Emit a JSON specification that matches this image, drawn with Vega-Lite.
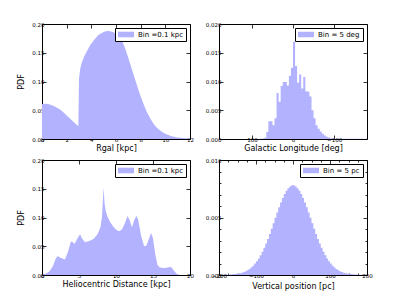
{
  "$schema": "https://vega.github.io/schema/vega-lite/v6.json",
  "padding": {"left": 17, "top": 21, "right": 5, "bottom": 5},
  "config": {
    "view": {"stroke": "black", "strokeWidth": 1},
    "axis": {"domain": false, "grid": false, "tickColor": "black", "tickSize": -4, "tickWidth": 0.8,
      "labelFont": "DejaVu Sans", "labelFontSize": 5.5, "labelColor": "black", "labelPadding": 2,
      "labelFlush": false, "labelOverlap": false,
      "titleFont": "DejaVu Sans", "titleFontSize": 8, "titleFontWeight": "normal", "titleColor": "black", "titlePadding": 2},
    "legend": {"orient": "top-right", "offset": 4, "padding": 3, "strokeColor": "black", "fillColor": "white",
      "cornerRadius": 0, "symbolType": "M-1,-0.35H1V0.35H-1Z", "symbolSize": 256, "symbolStrokeWidth": 0,
      "symbolOpacity": 1, "labelFont": "DejaVu Sans", "labelFontSize": 7, "labelColor": "black",
      "labelOffset": 4, "clipHeight": 7}
  },
  "datasets": {
    "rgal": [
      {"r": 0, "pdf": 0.061}, {"r": 0.25, "pdf": 0.0615}, {"r": 0.5, "pdf": 0.061}, {"r": 0.75, "pdf": 0.059},
      {"r": 1.0, "pdf": 0.057}, {"r": 1.25, "pdf": 0.054}, {"r": 1.5, "pdf": 0.051}, {"r": 1.75, "pdf": 0.046},
      {"r": 2.0, "pdf": 0.041}, {"r": 2.25, "pdf": 0.036}, {"r": 2.5, "pdf": 0.031}, {"r": 2.75, "pdf": 0.026},
      {"r": 2.95, "pdf": 0.022}, {"r": 3.0, "pdf": 0.105}, {"r": 3.1, "pdf": 0.122}, {"r": 3.2, "pdf": 0.131},
      {"r": 3.35, "pdf": 0.140}, {"r": 3.5, "pdf": 0.147}, {"r": 3.75, "pdf": 0.157}, {"r": 3.9, "pdf": 0.163},
      {"r": 4.25, "pdf": 0.173}, {"r": 4.57, "pdf": 0.181}, {"r": 5.0, "pdf": 0.186}, {"r": 5.25, "pdf": 0.188},
      {"r": 5.5, "pdf": 0.1875}, {"r": 5.75, "pdf": 0.186}, {"r": 6.0, "pdf": 0.183}, {"r": 6.25, "pdf": 0.178},
      {"r": 6.5, "pdf": 0.171}, {"r": 6.75, "pdf": 0.157}, {"r": 7.0, "pdf": 0.141}, {"r": 7.25, "pdf": 0.124},
      {"r": 7.5, "pdf": 0.107}, {"r": 7.75, "pdf": 0.090}, {"r": 8.0, "pdf": 0.074}, {"r": 8.25, "pdf": 0.060},
      {"r": 8.5, "pdf": 0.047}, {"r": 8.75, "pdf": 0.037}, {"r": 9.0, "pdf": 0.028}, {"r": 9.25, "pdf": 0.021},
      {"r": 9.5, "pdf": 0.016}, {"r": 9.75, "pdf": 0.012}, {"r": 10.0, "pdf": 0.009}, {"r": 10.5, "pdf": 0.005},
      {"r": 11.0, "pdf": 0.0028}, {"r": 11.5, "pdf": 0.0016}, {"r": 12.0, "pdf": 0.001}
    ],
    "glon": [
      {"l": -180, "pdf": 0}, {"l": -100, "pdf": 0.00005}, {"l": -95, "pdf": 0.0001}, {"l": -90, "pdf": 0.00015},
      {"l": -85, "pdf": 0.00025}, {"l": -80, "pdf": 0.0004}, {"l": -75, "pdf": 0.0006}, {"l": -70, "pdf": 0.0009},
      {"l": -65, "pdf": 0.0013}, {"l": -60, "pdf": 0.0018}, {"l": -55, "pdf": 0.0024}, {"l": -50, "pdf": 0.0036},
      {"l": -45, "pdf": 0.0050}, {"l": -40, "pdf": 0.0074}, {"l": -35, "pdf": 0.0082}, {"l": -30, "pdf": 0.0083},
      {"l": -25, "pdf": 0.0108}, {"l": -20, "pdf": 0.0088}, {"l": -15, "pdf": 0.0112}, {"l": -10, "pdf": 0.0098},
      {"l": -5, "pdf": 0.0127}, {"l": 0, "pdf": 0.0169}, {"l": 5, "pdf": 0.0124}, {"l": 10, "pdf": 0.0110},
      {"l": 15, "pdf": 0.0093}, {"l": 20, "pdf": 0.0099}, {"l": 25, "pdf": 0.0099}, {"l": 30, "pdf": 0.0092},
      {"l": 35, "pdf": 0.0065}, {"l": 40, "pdf": 0.0080}, {"l": 45, "pdf": 0.0036}, {"l": 50, "pdf": 0.0024},
      {"l": 55, "pdf": 0.0031}, {"l": 60, "pdf": 0.0031}, {"l": 65, "pdf": 0.0012}, {"l": 70, "pdf": 0.0002},
      {"l": 75, "pdf": 0.0001}, {"l": 80, "pdf": 0.00005}, {"l": 85, "pdf": 0}, {"l": 180, "pdf": 0}
    ],
    "dist": [
      {"d": 0, "pdf": 0.0}, {"d": 0.5, "pdf": 0.002}, {"d": 1.0, "pdf": 0.006}, {"d": 1.5, "pdf": 0.016},
      {"d": 1.8, "pdf": 0.027}, {"d": 2.1, "pdf": 0.033}, {"d": 2.5, "pdf": 0.030}, {"d": 3.1, "pdf": 0.027},
      {"d": 3.5, "pdf": 0.040}, {"d": 3.9, "pdf": 0.058}, {"d": 4.1, "pdf": 0.058}, {"d": 4.4, "pdf": 0.054},
      {"d": 4.8, "pdf": 0.064}, {"d": 5.15, "pdf": 0.071}, {"d": 5.4, "pdf": 0.064}, {"d": 5.8, "pdf": 0.057},
      {"d": 6.4, "pdf": 0.059}, {"d": 7.0, "pdf": 0.063}, {"d": 7.5, "pdf": 0.071}, {"d": 7.9, "pdf": 0.083},
      {"d": 8.1, "pdf": 0.100}, {"d": 8.25, "pdf": 0.135}, {"d": 8.32, "pdf": 0.152}, {"d": 8.45, "pdf": 0.125},
      {"d": 8.6, "pdf": 0.112}, {"d": 8.8, "pdf": 0.103}, {"d": 9.2, "pdf": 0.092}, {"d": 9.6, "pdf": 0.085},
      {"d": 10.0, "pdf": 0.079}, {"d": 10.4, "pdf": 0.076}, {"d": 10.8, "pdf": 0.079}, {"d": 11.2, "pdf": 0.090},
      {"d": 11.55, "pdf": 0.102}, {"d": 11.8, "pdf": 0.097}, {"d": 12.15, "pdf": 0.083}, {"d": 12.45, "pdf": 0.095},
      {"d": 12.75, "pdf": 0.103}, {"d": 13.0, "pdf": 0.096}, {"d": 13.4, "pdf": 0.068}, {"d": 13.8, "pdf": 0.050},
      {"d": 14.1, "pdf": 0.051}, {"d": 14.5, "pdf": 0.065}, {"d": 14.75, "pdf": 0.073}, {"d": 15.0, "pdf": 0.064},
      {"d": 15.3, "pdf": 0.036}, {"d": 15.6, "pdf": 0.018}, {"d": 15.9, "pdf": 0.013}, {"d": 16.5, "pdf": 0.012},
      {"d": 17.0, "pdf": 0.013}, {"d": 17.4, "pdf": 0.0145}, {"d": 17.7, "pdf": 0.010}, {"d": 18.0, "pdf": 0.005},
      {"d": 18.3, "pdf": 0.0015}, {"d": 18.7, "pdf": 0.0}, {"d": 20, "pdf": 0.0}
    ],
    "zpos": [
      {"z": -200, "pdf": 0.000008}, {"z": -195, "pdf": 0.00001}, {"z": -190, "pdf": 0.000015}, {"z": -185, "pdf": 0.00002},
      {"z": -180, "pdf": 0.000025}, {"z": -175, "pdf": 0.000035}, {"z": -170, "pdf": 0.000045}, {"z": -165, "pdf": 0.00006},
      {"z": -160, "pdf": 0.00008}, {"z": -155, "pdf": 0.0001}, {"z": -150, "pdf": 0.00012}, {"z": -145, "pdf": 0.00016},
      {"z": -140, "pdf": 0.0002}, {"z": -135, "pdf": 0.00026}, {"z": -130, "pdf": 0.00033}, {"z": -125, "pdf": 0.00042},
      {"z": -120, "pdf": 0.00053}, {"z": -115, "pdf": 0.00066}, {"z": -110, "pdf": 0.00081}, {"z": -105, "pdf": 0.00099},
      {"z": -100, "pdf": 0.0012}, {"z": -95, "pdf": 0.00143}, {"z": -90, "pdf": 0.00171}, {"z": -85, "pdf": 0.00202},
      {"z": -80, "pdf": 0.00236}, {"z": -75, "pdf": 0.00273}, {"z": -70, "pdf": 0.00314}, {"z": -65, "pdf": 0.00357},
      {"z": -60, "pdf": 0.00403}, {"z": -55, "pdf": 0.0045}, {"z": -50, "pdf": 0.00497}, {"z": -45, "pdf": 0.00544},
      {"z": -40, "pdf": 0.0059}, {"z": -35, "pdf": 0.0063}, {"z": -30, "pdf": 0.0067}, {"z": -25, "pdf": 0.00705},
      {"z": -20, "pdf": 0.00733}, {"z": -15, "pdf": 0.00755}, {"z": -10, "pdf": 0.0077}, {"z": -5, "pdf": 0.0078},
      {"z": 0, "pdf": 0.0078}, {"z": 5, "pdf": 0.0077}, {"z": 10, "pdf": 0.00755}, {"z": 15, "pdf": 0.00733},
      {"z": 20, "pdf": 0.00705}, {"z": 25, "pdf": 0.0067}, {"z": 30, "pdf": 0.0063}, {"z": 35, "pdf": 0.0059},
      {"z": 40, "pdf": 0.00544}, {"z": 45, "pdf": 0.00497}, {"z": 50, "pdf": 0.0045}, {"z": 55, "pdf": 0.00403},
      {"z": 60, "pdf": 0.00357}, {"z": 65, "pdf": 0.00314}, {"z": 70, "pdf": 0.00273}, {"z": 75, "pdf": 0.00236},
      {"z": 80, "pdf": 0.00202}, {"z": 85, "pdf": 0.00171}, {"z": 90, "pdf": 0.00143}, {"z": 95, "pdf": 0.0012},
      {"z": 100, "pdf": 0.00099}, {"z": 105, "pdf": 0.00081}, {"z": 110, "pdf": 0.00066}, {"z": 115, "pdf": 0.00053},
      {"z": 120, "pdf": 0.00042}, {"z": 125, "pdf": 0.00033}, {"z": 130, "pdf": 0.00026}, {"z": 135, "pdf": 0.0002},
      {"z": 140, "pdf": 0.00016}, {"z": 145, "pdf": 0.00012}, {"z": 150, "pdf": 0.0001}, {"z": 155, "pdf": 0.00008},
      {"z": 160, "pdf": 0.00006}, {"z": 165, "pdf": 0.000045}, {"z": 170, "pdf": 0.000035}, {"z": 175, "pdf": 0.000025},
      {"z": 180, "pdf": 0.00002}, {"z": 185, "pdf": 0.000015}, {"z": 190, "pdf": 0.00001}, {"z": 195, "pdf": 0.000008},
      {"z": 200, "pdf": 0.000008}
    ]
  },
  "columns": 2,
  "spacing": {"row": 21, "column": 29},
  "bounds": "flush",
  "resolve": {"scale": {"color": "independent"}, "legend": {"color": "independent"}},
  "concat": [
    {
      "width": 148, "height": 115,
      "data": {"name": "rgal"},
      "layer": [
        {"mark": {"type": "area", "opacity": 1, "interpolate": "linear"},
         "encoding": {
           "x": {"field": "r", "type": "quantitative", "scale": {"domain": [0, 12], "nice": false, "zero": false},
                 "axis": {"values": [0, 2, 4, 6, 8, 10, 12], "title": "Rgal  [kpc]"}},
           "y": {"field": "pdf", "type": "quantitative", "scale": {"domain": [0, 0.2], "nice": false},
                 "axis": {"values": [0, 0.05, 0.1, 0.15, 0.2], "format": ".2f", "title": "PDF", "titlePadding": 6}},
           "color": {"datum": "Bin =0.1 kpc", "type": "nominal", "scale": {"range": ["#b2b2ff"]}, "legend": {"title": null}}
         }},
        {"mark": {"type": "point", "opacity": 0},
         "encoding": {
           "x": {"field": "r", "type": "quantitative", "axis": {"orient": "top", "labels": false, "title": null, "values": [0, 2, 4, 6, 8, 10, 12]}},
           "y": {"field": "pdf", "type": "quantitative", "axis": {"orient": "right", "labels": false, "title": null, "values": [0, 0.05, 0.1, 0.15, 0.2]}}
         }}
      ],
      "resolve": {"axis": {"x": "independent", "y": "independent"}}
    },
    {
      "width": 148, "height": 115,
      "data": {"name": "glon"},
      "layer": [
        {"mark": {"type": "area", "opacity": 1, "interpolate": "step-after"},
         "encoding": {
           "x": {"field": "l", "type": "quantitative", "scale": {"domain": [180, -180], "nice": false, "zero": false},
                 "axis": {"values": [100, 0, -100], "title": "Galactic Longitude [deg]"}},
           "y": {"field": "pdf", "type": "quantitative", "scale": {"domain": [0, 0.02], "nice": false},
                 "axis": {"values": [0, 0.005, 0.01, 0.015, 0.02], "format": ".3f", "title": null}},
           "color": {"datum": "Bin = 5 deg", "type": "nominal", "scale": {"range": ["#b2b2ff"]}, "legend": {"title": null}}
         }},
        {"mark": {"type": "point", "opacity": 0},
         "encoding": {
           "x": {"field": "l", "type": "quantitative", "axis": {"orient": "top", "labels": false, "title": null, "values": [100, 0, -100]}},
           "y": {"field": "pdf", "type": "quantitative", "axis": {"orient": "right", "labels": false, "title": null, "values": [0, 0.005, 0.01, 0.015, 0.02]}}
         }}
      ],
      "resolve": {"axis": {"x": "independent", "y": "independent"}}
    },
    {
      "width": 148, "height": 115,
      "data": {"name": "dist"},
      "layer": [
        {"mark": {"type": "area", "opacity": 1, "interpolate": "linear"},
         "encoding": {
           "x": {"field": "d", "type": "quantitative", "scale": {"domain": [0, 20], "nice": false, "zero": false},
                 "axis": {"values": [0, 5, 10, 15, 20], "title": "Heliocentric Distance [kpc]"}},
           "y": {"field": "pdf", "type": "quantitative", "scale": {"domain": [0, 0.2], "nice": false},
                 "axis": {"values": [0, 0.05, 0.1, 0.15, 0.2], "format": ".2f", "title": "PDF", "titlePadding": 6}},
           "color": {"datum": "Bin =0.1 kpc", "type": "nominal", "scale": {"range": ["#b2b2ff"]}, "legend": {"title": null}}
         }},
        {"mark": {"type": "point", "opacity": 0},
         "encoding": {
           "x": {"field": "d", "type": "quantitative", "axis": {"orient": "top", "labels": false, "title": null, "values": [0, 5, 10, 15, 20]}},
           "y": {"field": "pdf", "type": "quantitative", "axis": {"orient": "right", "labels": false, "title": null, "values": [0, 0.05, 0.1, 0.15, 0.2]}}
         }}
      ],
      "resolve": {"axis": {"x": "independent", "y": "independent"}}
    },
    {
      "width": 148, "height": 115,
      "data": {"name": "zpos"},
      "layer": [
        {"mark": {"type": "area", "opacity": 1, "interpolate": "step-after"},
         "encoding": {
           "x": {"field": "z", "type": "quantitative", "scale": {"domain": [-200, 200], "nice": false, "zero": false},
                 "axis": {"values": [-200, -175, -150, -125, -100, -75, -50, -25, 0, 25, 50, 75, 100, 125, 150, 175, 200],
                          "labelExpr": "datum.value % 100 === 0 ? datum.label : ''",
                          "tickSize": {"condition": {"test": "datum.value % 100 === 0", "value": -4}, "value": -2},
                          "title": "Vertical position [pc]"}},
           "y": {"field": "pdf", "type": "quantitative", "scale": {"domain": [0, 0.01], "nice": false},
                 "axis": {"values": [0, 0.001, 0.002, 0.003, 0.004, 0.005, 0.006, 0.007, 0.008, 0.009, 0.01], "format": ".3f",
                          "labelExpr": "round(datum.value * 1000) % 5 === 0 ? datum.label : ''",
                          "tickSize": {"condition": {"test": "round(datum.value * 1000) % 5 === 0", "value": -4}, "value": -2},
                          "title": null}},
           "color": {"datum": "Bin = 5 pc", "type": "nominal", "scale": {"range": ["#b2b2ff"]}, "legend": {"title": null}}
         }},
        {"mark": {"type": "point", "opacity": 0},
         "encoding": {
           "x": {"field": "z", "type": "quantitative",
                 "axis": {"orient": "top", "labels": false, "title": null,
                          "values": [-200, -175, -150, -125, -100, -75, -50, -25, 0, 25, 50, 75, 100, 125, 150, 175, 200],
                          "tickSize": {"condition": {"test": "datum.value % 100 === 0", "value": -4}, "value": -2}}},
           "y": {"field": "pdf", "type": "quantitative",
                 "axis": {"orient": "right", "labels": false, "title": null,
                          "values": [0, 0.001, 0.002, 0.003, 0.004, 0.005, 0.006, 0.007, 0.008, 0.009, 0.01],
                          "tickSize": {"condition": {"test": "round(datum.value * 1000) % 5 === 0", "value": -4}, "value": -2}}}
         }}
      ],
      "resolve": {"axis": {"x": "independent", "y": "independent"}}
    }
  ]
}
